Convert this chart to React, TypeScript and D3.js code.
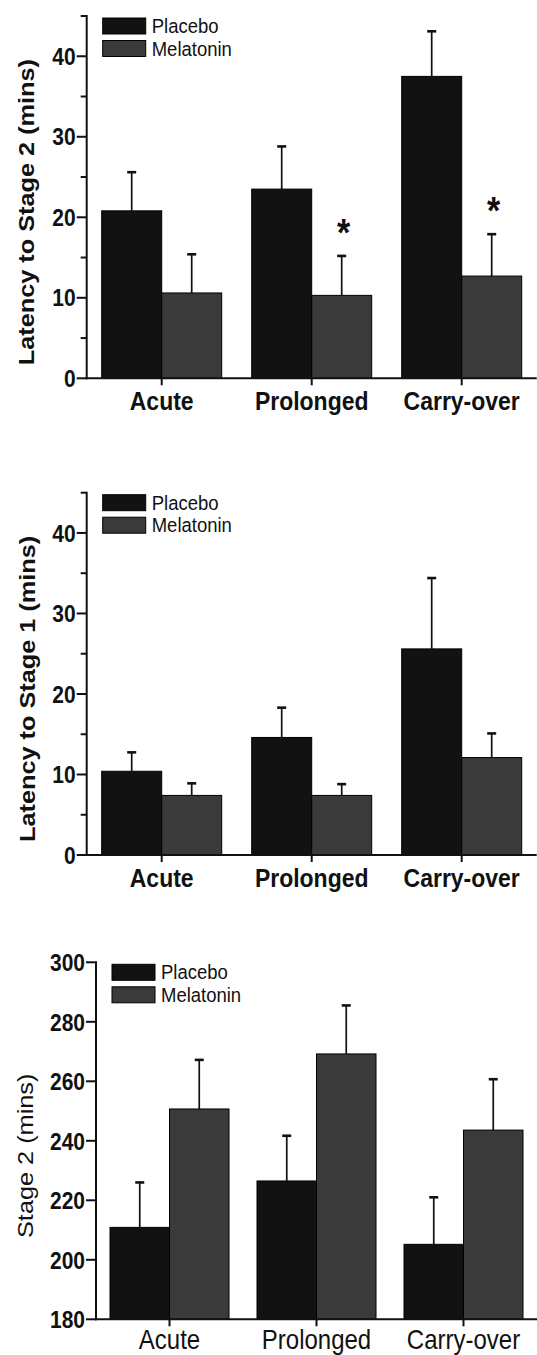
import React from "react";
import * as d3 from "d3";

// Treatment conditions and groups
const categories = ["Acute", "Prolonged", "Carry-over"];
const groups = ["Placebo", "Melatonin"];

// Latency to Stage 2 (mins): mean and SEM
const latencyS2Placebo = [20.8, 23.5, 37.5];
const latencyS2PlaceboSem = [4.8, 5.3, 5.6];
const latencyS2Melatonin = [10.6, 10.3, 12.7];
const latencyS2MelatoninSem = [4.8, 4.9, 5.2];
const latencyS2Significant = [false, true, true];

// Latency to Stage 1 (mins): mean and SEM
const latencyS1Placebo = [10.4, 14.6, 25.6];
const latencyS1PlaceboSem = [2.35, 3.7, 8.8];
const latencyS1Melatonin = [7.4, 7.4, 12.1];
const latencyS1MelatoninSem = [1.5, 1.4, 3.0];
const latencyS1Significant = [false, false, false];

// Stage 2 duration (mins): mean and SEM
const stage2Placebo = [210.9, 226.5, 205.2];
const stage2PlaceboSem = [15.1, 15.2, 15.8];
const stage2Melatonin = [250.7, 269.2, 243.6];
const stage2MelatoninSem = [16.5, 16.3, 17.1];
const stage2Significant = [false, false, false];

// Axis ticks
const latencyTicks = [0, 10, 20, 30, 40];
const latencyMinorTicks = [5, 15, 25, 35, 45];
const stage2Ticks = [180, 200, 220, 240, 260, 280, 300];

const FONT = "'Liberation Sans', Arial, Helvetica, sans-serif";
const SY = 1.15; // vertical stretch of lettering
const fills: Record<string, string> = { Placebo: "#121212", Melatonin: "#3a3a3a" };

type PanelCfg = {
  domain: [number, number];
  top: number;
  bottom: number;
  left: number;
  right: number;
  pairWidth: number;
  ticks: number[];
  minorTicks: number[];
  yLabel: string;
  yLabelWeight: string;
  yLabelX: number;
  catWeight: string;
  catSize: number;
  catOffset: number;
  means: Record<string, number[]>;
  sems: Record<string, number[]>;
  significant: boolean[];
};

const panels: PanelCfg[] = [
  {
    domain: [0, 45],
    top: 16,
    bottom: 378.3,
    left: 86.7,
    right: 536.7,
    pairWidth: 120,
    ticks: latencyTicks,
    minorTicks: latencyMinorTicks,
    yLabel: "Latency to Stage 2 (mins)",
    yLabelWeight: "bold",
    yLabelX: 26,
    catWeight: "bold",
    catSize: 23,
    catOffset: 32,
    means: { Placebo: latencyS2Placebo, Melatonin: latencyS2Melatonin },
    sems: { Placebo: latencyS2PlaceboSem, Melatonin: latencyS2MelatoninSem },
    significant: latencyS2Significant,
  },
  {
    domain: [0, 45],
    top: 492.7,
    bottom: 855,
    left: 86.7,
    right: 536.7,
    pairWidth: 120,
    ticks: latencyTicks,
    minorTicks: latencyMinorTicks,
    yLabel: "Latency to Stage 1 (mins)",
    yLabelWeight: "bold",
    yLabelX: 27,
    catWeight: "bold",
    catSize: 23,
    catOffset: 32,
    means: { Placebo: latencyS1Placebo, Melatonin: latencyS1Melatonin },
    sems: { Placebo: latencyS1PlaceboSem, Melatonin: latencyS1MelatoninSem },
    significant: latencyS1Significant,
  },
  {
    domain: [180, 300],
    top: 962.3,
    bottom: 1319.3,
    left: 96,
    right: 537,
    pairWidth: 119,
    ticks: stage2Ticks,
    minorTicks: [],
    yLabel: "Stage 2 (mins)",
    yLabelWeight: "normal",
    yLabelX: 25,
    catWeight: "normal",
    catSize: 24,
    catOffset: 29.5,
    means: { Placebo: stage2Placebo, Melatonin: stage2Melatonin },
    sems: { Placebo: stage2PlaceboSem, Melatonin: stage2MelatoninSem },
    significant: stage2Significant,
  },
];

function Panel({ cfg }: { cfg: PanelCfg }) {
  const y = d3.scaleLinear().domain(cfg.domain).range([cfg.bottom, cfg.top]);
  const x = d3.scaleBand().domain(categories).range([cfg.left, cfg.right]);
  const sub = d3.scaleBand().domain(groups).range([0, cfg.pairWidth]);
  const half = cfg.pairWidth / 2;
  const center = (c: string) => (x(c) as number) + x.bandwidth() / 2;
  const axisTop = y(cfg.domain[1]);
  const midY = (cfg.top + cfg.bottom) / 2 + 15;

  return (
    <g>
      {/* bars with upper SEM whiskers */}
      {categories.map((c, i) =>
        groups.map((g) => {
          const bx = center(c) - half + (sub(g) as number);
          const v = cfg.means[g][i];
          const e = v + cfg.sems[g][i];
          const cx = bx + sub.bandwidth() / 2;
          return (
            <g key={c + g}>
              <line x1={cx} x2={cx} y1={y(v)} y2={y(e)} stroke="#111" strokeWidth={1.7} />
              <line x1={cx - 4.5} x2={cx + 4.5} y1={y(e)} y2={y(e)} stroke="#111" strokeWidth={2.6} />
              <rect
                x={bx}
                y={y(v)}
                width={sub.bandwidth()}
                height={y(cfg.domain[0]) - y(v)}
                fill={fills[g]}
                stroke="#000"
                strokeWidth={1}
              />
            </g>
          );
        })
      )}

      {/* significance markers above melatonin bars */}
      {categories.map((c, i) => {
        if (!cfg.significant[i]) return null;
        const g = "Melatonin";
        const cx = center(c) - half + (sub(g) as number) + sub.bandwidth() / 2;
        const e = cfg.means[g][i] + cfg.sems[g][i];
        return (
          <g key={"sig" + c} transform={`translate(${cx + 2},${y(e) - 10}) scale(1,${SY})`}>
            <text textAnchor="middle" fontSize={34} fontWeight="bold" fontFamily={FONT} fill="#111">
              *
            </text>
          </g>
        );
      })}

      {/* y axis */}
      <line x1={cfg.left} x2={cfg.left} y1={axisTop - 1} y2={cfg.bottom + 1} stroke="#111" strokeWidth={2} />
      {cfg.ticks.map((t) => (
        <g key={"t" + t}>
          <line x1={cfg.left - 10} x2={cfg.left} y1={y(t)} y2={y(t)} stroke="#111" strokeWidth={2} />
          <g transform={`translate(${cfg.left - 11},${y(t)}) scale(1,${SY})`}>
            <text textAnchor="end" dy="0.36em" fontSize={21} fontWeight="bold" fontFamily={FONT} fill="#111">
              {t}
            </text>
          </g>
        </g>
      ))}
      {cfg.minorTicks.map((t) => (
        <line key={"m" + t} x1={cfg.left - 6} x2={cfg.left} y1={y(t)} y2={y(t)} stroke="#111" strokeWidth={2} />
      ))}
      <g transform={`translate(${cfg.yLabelX},${midY}) scale(1,${SY}) rotate(-90)`}>
        <text textAnchor="middle" dy="0.35em" fontSize={22} fontWeight={cfg.yLabelWeight} fontFamily={FONT} fill="#111">
          {cfg.yLabel}
        </text>
      </g>

      {/* x axis */}
      <line x1={cfg.left - 1} x2={cfg.right} y1={cfg.bottom} y2={cfg.bottom} stroke="#111" strokeWidth={2} />
      {categories.map((c) => (
        <g key={"c" + c}>
          <line x1={center(c)} x2={center(c)} y1={cfg.bottom} y2={cfg.bottom + 7} stroke="#111" strokeWidth={2} />
          <g transform={`translate(${center(c)},${cfg.bottom + cfg.catOffset}) scale(1,${SY})`}>
            <text textAnchor="middle" fontSize={cfg.catSize} fontWeight={cfg.catWeight} fontFamily={FONT} fill="#111">
              {c}
            </text>
          </g>
        </g>
      ))}

      {/* legend */}
      {groups.map((g, k) => {
        const ly = axisTop + 2 + k * 22.5;
        return (
          <g key={"lg" + g}>
            <rect x={cfg.left + 16} y={ly} width={43} height={16} fill={fills[g]} stroke="#000" strokeWidth={1} />
            <g transform={`translate(${cfg.left + 65},${ly + 15}) scale(1,1.05)`}>
              <text fontSize={18.5} fontFamily={FONT} fill="#111">
                {g}
              </text>
            </g>
          </g>
        );
      })}
    </g>
  );
}

export default function App() {
  return (
    <svg
      width={537}
      height={1355}
      viewBox="0 0 537 1355"
      style={{ position: "absolute", left: 0, top: 0, background: "#fff" }}
    >
      <rect width={537} height={1355} fill="#fff" />
      {panels.map((p, i) => (
        <Panel key={i} cfg={p} />
      ))}
    </svg>
  );
}
